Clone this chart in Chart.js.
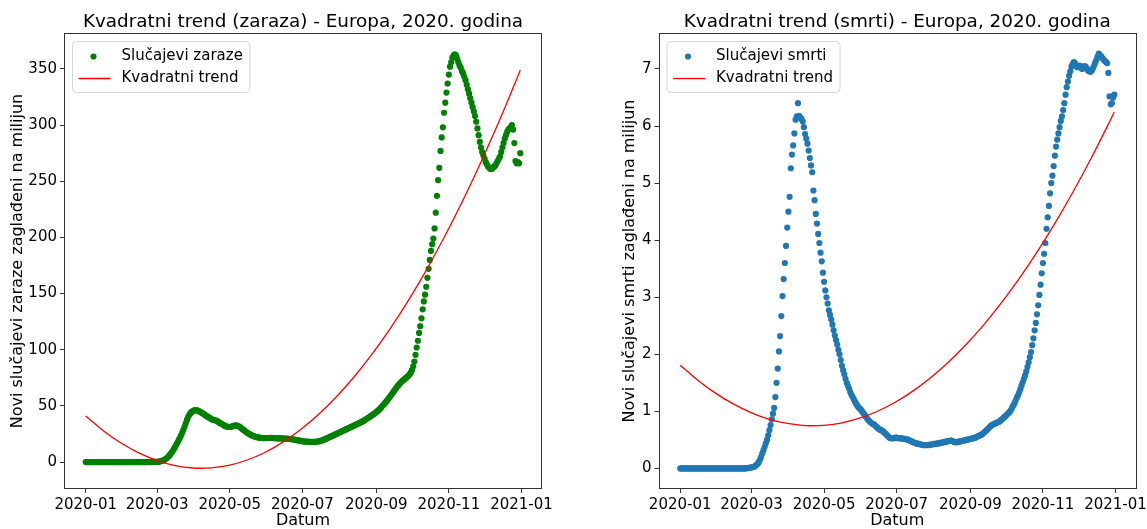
<!DOCTYPE html>
<html lang="hr">
<head>
  <meta charset="UTF-8" />
  <title>Kvadratni trend - Europa, 2020. godina</title>
  <script src="https://cdn.jsdelivr.net/npm/chart.js@4"></script>
  <style>
    html, body { margin: 0; padding: 0; background: #fff; }
    body { width: 1147px; height: 529px; position: relative; overflow: hidden; }
    .plot { position: absolute; top: 0; height: 529px; }
    #lijevo { left: 0; width: 590px; }
    #desno { left: 600px; width: 547px; }
  </style>
</head>
<body>
  <div class="plot" id="lijevo"><canvas id="zaraze"></canvas></div>
  <div class="plot" id="desno"><canvas id="smrti"></canvas></div>

  <script>
    // x os: dani od 1.1.2020 (indeks niza = dan)
    const tickDani = [0, 60, 121, 182, 244, 305, 366];
    const tickOznake = ['2020-01', '2020-03', '2020-05', '2020-07', '2020-09', '2020-11', '2021-01'];
    const yTickZaraze = [0, 50, 100, 150, 200, 250, 300, 350];
    const yTickSmrti = [0, 1, 2, 3, 4, 5, 6, 7];

    // novi slučajevi zaraze (zaglađeno, na milijun), dnevno
    const zarazeDnevno = [
      // sij
      0, 0, 0, 0, 0, 0, 0, 0, 0, 0, 0, 0, 0, 0, 0, 0, 0, 0, 0, 0, 0, 0, 0, 0, 0, 0, 0, 0, 0, 0, 0,
      // velj
      0, 0, 0, 0, 0, 0, 0, 0, 0, 0, 0, 0, 0, 0, 0, 0, 0, 0, 0, 0, 0, 0, 0.05, 0.05, 0.1, 0.1, 0.1, 0.15, 0.2,
      // ožu
      0.2, 0.3, 0.5, 0.7, 1.0, 1.4, 1.9, 2.6, 3.4, 4.4, 5.5, 6.8, 8.2, 9.8, 11.5, 13.3, 15.2, 17.2, 19.3, 21.4,
      23.6, 26.0, 28.6, 31.4, 34.5, 37.5, 40.0, 42.0, 43.5, 44.6, 45.4,
      // tra
      46.0, 46.3, 46.2, 45.8, 45.3, 44.7, 44.1, 43.5, 42.8, 42.0, 41.3, 40.6, 40.0, 39.3, 38.6, 38.0, 37.6, 37.4,
      37.2, 36.6, 36.0, 35.3, 34.6, 34.0, 33.4, 32.8, 32.2, 31.7, 31.4, 31.3,
      // svi
      31.2, 31.4, 31.8, 32.2, 32.5, 32.6, 32.5, 32.1, 31.5, 30.7, 29.8, 29.0, 28.2, 27.4, 26.6, 25.9, 25.2, 24.6,
      24.0, 23.5, 23.1, 22.7, 22.4, 22.1, 21.9, 21.7, 21.5, 21.4, 21.3, 21.3, 21.3,
      // lip
      21.3, 21.4, 21.4, 21.5, 21.5, 21.4, 21.3, 21.2, 21.2, 21.1, 21.1, 21.0, 21.0, 21.0, 20.9, 20.9, 20.8, 20.8,
      20.7, 20.6, 20.5, 20.4, 20.2, 20.0, 19.8, 19.6, 19.4, 19.2, 19.0, 18.8,
      // srp
      18.6, 18.4, 18.3, 18.2, 18.1, 18.0, 18.0, 17.9, 17.9, 17.9, 18.0, 18.0, 18.1, 18.3, 18.5, 18.8, 19.1, 19.5,
      19.9, 20.3, 20.8, 21.3, 21.8, 22.3, 22.8, 23.3, 23.8, 24.3, 24.8, 25.3, 25.8,
      // kol
      26.3, 26.8, 27.3, 27.8, 28.3, 28.8, 29.3, 29.8, 30.3, 30.8, 31.3, 31.8, 32.3, 32.8, 33.3, 33.8, 34.3, 34.8,
      35.3, 35.9, 36.5, 37.1, 37.8, 38.5, 39.2, 39.9, 40.6, 41.3, 42.0, 42.8, 43.6,
      // ruj
      44.4, 45.3, 46.3, 47.3, 48.4, 49.6, 50.8, 52.0, 53.3, 54.6, 56.0, 57.4, 58.8, 60.3, 61.8, 63.3, 64.8, 66.2,
      67.6, 68.9, 70.1, 71.2, 72.2, 73.1, 74.0, 74.9, 75.8, 76.8, 78.0, 79.6,
      // lis
      81.8, 85.0, 89.5, 95.5, 102, 108, 115, 121, 128, 136, 143, 149, 156, 164, 172, 180, 188, 194, 199, 208,
      222, 237, 251, 262, 277, 289, 298, 311, 320, 329, 337,
      // stu
      345, 352, 356, 360, 362, 363, 362, 359, 356, 353, 351, 348, 346, 343, 340, 336, 332, 328, 324, 320,
      316, 312, 308, 303, 297, 291, 285, 280, 276, 273,
      // pro
      270, 267, 265, 263, 262, 261, 261, 262, 263, 264, 266, 268, 270, 272, 276, 280, 284, 288, 291, 294,
      296, 297, 298, 300, 296, 284, 268, 266, 267, 266, 275
    ];

    // novi slučajevi smrti (zaglađeno, na milijun), dnevno
    const smrtiDnevno = [
      // sij
      0, 0, 0, 0, 0, 0, 0, 0, 0, 0, 0, 0, 0, 0, 0, 0, 0, 0, 0, 0, 0, 0, 0, 0, 0, 0, 0, 0, 0, 0, 0,
      // velj
      0, 0, 0, 0, 0, 0, 0, 0, 0, 0, 0, 0, 0, 0, 0, 0, 0, 0, 0, 0, 0, 0, 0, 0, 0, 0.005, 0.01, 0.01, 0.015,
      // ožu
      0.02, 0.025, 0.03, 0.04, 0.06, 0.08, 0.11, 0.15, 0.2, 0.26, 0.32, 0.38, 0.44, 0.5, 0.58, 0.67, 0.76, 0.86,
      0.96, 1.06, 1.25, 1.5, 1.75, 2.05, 2.32, 2.67, 3.02, 3.32, 3.6, 3.9, 4.22,
      // tra
      4.5, 4.76, 5.26, 5.5, 5.66, 5.87, 6.11, 6.17, 6.40, 6.18, 6.15, 6.12, 6.08, 5.98, 5.86, 5.78, 5.69, 5.57,
      5.44, 5.31, 5.19, 4.87, 4.70, 4.46, 4.29, 4.11, 3.95, 3.78, 3.63, 3.43,
      // svi
      3.27, 3.12, 3.00, 2.89, 2.77, 2.69, 2.61, 2.52, 2.42, 2.33, 2.25, 2.17, 2.08, 2.00, 1.90, 1.80, 1.72, 1.65,
      1.57, 1.50, 1.45, 1.40, 1.34, 1.29, 1.25, 1.21, 1.17, 1.13, 1.10, 1.07, 1.05,
      // lip
      1.03, 1.00, 0.97, 0.94, 0.91, 0.88, 0.85, 0.83, 0.81, 0.79, 0.78, 0.77, 0.75, 0.73, 0.71, 0.69, 0.68, 0.67,
      0.66, 0.64, 0.62, 0.60, 0.58, 0.56, 0.54, 0.53, 0.53, 0.53, 0.53, 0.54,
      // srp
      0.54, 0.53, 0.53, 0.53, 0.53, 0.52, 0.52, 0.52, 0.51, 0.51, 0.50, 0.49, 0.48, 0.47, 0.46, 0.45, 0.44, 0.44,
      0.43, 0.43, 0.42, 0.42, 0.41, 0.41, 0.41, 0.41, 0.41, 0.41, 0.42, 0.42, 0.42,
      // kol
      0.43, 0.43, 0.43, 0.44, 0.44, 0.44, 0.45, 0.45, 0.46, 0.46, 0.47, 0.47, 0.48, 0.48, 0.49, 0.49, 0.48, 0.47,
      0.46, 0.46, 0.46, 0.47, 0.47, 0.48, 0.48, 0.49, 0.49, 0.50, 0.50, 0.51, 0.51,
      // ruj
      0.52, 0.52, 0.53, 0.53, 0.54, 0.55, 0.56, 0.57, 0.58, 0.59, 0.60, 0.62, 0.64, 0.66, 0.68, 0.70, 0.72, 0.74,
      0.76, 0.77, 0.78, 0.79, 0.80, 0.81, 0.82, 0.83, 0.85, 0.87, 0.89, 0.91,
      // lis
      0.93, 0.95, 0.97, 0.99, 1.02, 1.06, 1.10, 1.14, 1.19, 1.24, 1.28, 1.33, 1.39, 1.45, 1.51, 1.57, 1.63, 1.70,
      1.78, 1.86, 1.95, 2.04, 2.16, 2.28, 2.42, 2.55, 2.70, 2.86, 3.04, 3.22, 3.42,
      // stu
      3.60, 3.76, 3.95, 4.20, 4.40, 4.60, 4.82, 5.00, 5.13, 5.30, 5.48, 5.64, 5.76, 5.87, 5.98, 6.09, 6.17, 6.28,
      6.40, 6.55, 6.68, 6.78, 6.88, 6.96, 7.04, 7.09, 7.12, 7.10, 7.05, 7.03,
      // pro
      7.05, 7.06, 7.02, 7.00, 7.03, 7.05, 7.04, 7.00, 6.97, 6.96, 6.95, 6.97, 7.01, 7.06, 7.11, 7.16, 7.22, 7.27,
      7.24, 7.22, 7.19, 7.16, 7.14, 7.12, 7.10, 6.93, 6.52, 6.38, 6.40, 6.50, 6.55
    ];

    // kvadratni trend, očitano svakih 15 dana
    const trendDani = [0, 15, 30, 45, 60, 75, 90, 105, 120, 135, 150, 165, 180, 195, 210, 225, 240, 255, 270, 285, 300, 315, 330, 345, 360, 365];
    const trendZaraze = [41, 27.7, 16.7, 7.9, 1.3, -3.1, -5.3, -5.2, -2.9, 1.6, 8.3, 17.3, 28.5, 41.9, 57.5, 75.3,
      95.4, 117.7, 142.2, 168.9, 197.9, 229.1, 262.4, 298.0, 335.9, 349.0];
    const trendSmrti = [1.81, 1.543, 1.316, 1.126, 0.975, 0.862, 0.788, 0.752, 0.755, 0.796, 0.876, 0.994, 1.151,
      1.346, 1.580, 1.852, 2.163, 2.512, 2.900, 3.325, 3.790, 4.293, 4.835, 5.414, 6.033, 6.247];

    const FONT = "'DejaVu Sans', 'Liberation Sans', sans-serif";
    const RUB = '#333';
    Chart.defaults.font.family = FONT;
    Chart.defaults.color = '#000';

    // okvir oko područja grafa (sve četiri strane) + naslov centriran nad osima
    const okvir = {
      id: 'okvir',
      afterDraw(chart, args, opts) {
        const { ctx, chartArea: a } = chart;
        ctx.save();
        ctx.strokeStyle = RUB;
        ctx.lineWidth = 1;
        ctx.strokeRect(Math.round(a.left) + 0.5, Math.round(a.top) + 0.5,
          Math.round(a.right - a.left) - 1, Math.round(a.bottom - a.top) - 1);
        ctx.font = '18.4px ' + FONT;
        ctx.fillStyle = '#000';
        ctx.textAlign = 'center';
        ctx.textBaseline = 'middle';
        ctx.fillText(opts.naslov, (a.left + a.right) / 2, 21.8);
        ctx.restore();
      }
    };

    // legenda unutar grafa, gore lijevo
    const legendaUnutra = {
      id: 'legendaUnutra',
      afterDraw(chart, args, opts) {
        const { ctx, chartArea: a } = chart;
        ctx.save();
        ctx.font = '15px ' + FONT;
        const w = Math.max(...opts.stavke.map(s => ctx.measureText(s.tekst).width));
        const x = a.left + 8.5, y = a.top + 8.5, bw = 49 + w + 7, bh = 51;
        ctx.beginPath();
        ctx.roundRect(x, y, bw, bh, 4);
        ctx.fillStyle = 'rgba(255,255,255,0.8)';
        ctx.fill();
        ctx.strokeStyle = '#d5d5d5';
        ctx.lineWidth = 1;
        ctx.stroke();
        opts.stavke.forEach((s, i) => {
          const cy = y + 15 + i * 22;
          if (s.vrsta === 'tocka') {
            ctx.beginPath();
            ctx.arc(x + 21, cy, 3.1, 0, Math.PI * 2);
            ctx.fillStyle = s.boja;
            ctx.fill();
          } else {
            ctx.beginPath();
            ctx.moveTo(x + 6, cy);
            ctx.lineTo(x + 38, cy);
            ctx.strokeStyle = s.boja;
            ctx.lineWidth = 1.3;
            ctx.stroke();
          }
          ctx.fillStyle = '#000';
          ctx.textBaseline = 'middle';
          ctx.fillText(s.tekst, x + 49, cy);
        });
        ctx.restore();
      }
    };

    function napravi(id, c) {
      new Chart(document.getElementById(id), {
        type: 'scatter',
        data: {
          datasets: [
            {
              type: 'line',
              label: 'Kvadratni trend',
              data: trendDani.map((d, i) => ({ x: d, y: c.trend[i] })),
              borderColor: 'red',
              borderWidth: 1.3,
              pointRadius: 0,
              tension: 0.4,
              fill: false,
              order: 1
            },
            {
              label: c.oznaka,
              data: c.vrijednosti.map((v, i) => ({ x: i, y: v })),
              backgroundColor: c.boja,
              pointRadius: 3.1,
              pointHoverRadius: 3.1,
              pointBorderWidth: 0,
              order: 2
            }
          ]
        },
        options: {
          responsive: true,
          maintainAspectRatio: false,
          animation: false,
          events: [],
          layout: { padding: { left: 0, right: c.desnoPad, top: 33, bottom: 0 } },
          plugins: {
            legend: { display: false },
            tooltip: { enabled: false },
            title: { display: false },
            okvir: { naslov: c.naslov },
            legendaUnutra: {
              stavke: [
                { tekst: c.oznaka, vrsta: 'tocka', boja: c.boja },
                { tekst: 'Kvadratni trend', vrsta: 'linija', boja: 'red' }
              ]
            }
          },
          scales: {
            x: {
              type: 'linear',
              min: -18.25,
              max: 383.25,
              afterBuildTicks: s => { s.ticks = tickDani.map(v => ({ value: v })); },
              afterFit: s => { s.height = 40; s.paddingLeft = 0; s.paddingRight = 0; },
              ticks: {
                font: { size: 15 },
                color: '#000',
                padding: 3,
                maxRotation: 0,
                autoSkip: false,
                callback: v => tickOznake[tickDani.indexOf(v)]
              },
              grid: { drawOnChartArea: false, drawTicks: true, tickLength: 4, color: RUB },
              border: { display: false },
              title: { display: true, text: 'Datum', color: '#000', font: { size: 16, lineHeight: 1 }, padding: { top: 0, bottom: 0 } }
            },
            y: {
              min: c.yMin,
              max: c.yMax,
              afterBuildTicks: s => { s.ticks = c.yTicks.map(v => ({ value: v })); },
              afterFit: s => { s.width = c.yWidth; s.paddingTop = 0; s.paddingBottom = 0; },
              ticks: { font: { size: 15 }, color: '#000', padding: 3 },
              grid: { drawOnChartArea: false, drawTicks: true, tickLength: 4, color: RUB },
              border: { display: false },
              title: { display: true, text: c.yNaslov, color: '#000', font: { size: 16 }, padding: { top: c.yNaslovPad, bottom: 0 } }
            }
          }
        },
        plugins: [okvir, legendaUnutra]
      });
    }

    napravi('zaraze', {
      naslov: 'Kvadratni trend (zaraza) - Europa, 2020. godina',
      oznaka: 'Slučajevi zaraze',
      yNaslov: 'Novi slučajevi zaraze zaglađeni na milijun',
      boja: 'green',
      vrijednosti: zarazeDnevno,
      trend: trendZaraze,
      yMin: -24, yMax: 382, yTicks: yTickZaraze,
      yWidth: 64, yNaslovPad: 8.4, desnoPad: 48
    });

    napravi('smrti', {
      naslov: 'Kvadratni trend (smrti) - Europa, 2020. godina',
      oznaka: 'Slučajevi smrti',
      yNaslov: 'Novi slučajevi smrti zaglađeni na milijun',
      boja: '#1f77b4',
      vrijednosti: smrtiDnevno,
      trend: trendSmrti,
      yMin: -0.36, yMax: 7.63, yTicks: yTickSmrti,
      yWidth: 58.5, yNaslovPad: 20.4, desnoPad: 11
    });
  </script>
</body>
</html>
